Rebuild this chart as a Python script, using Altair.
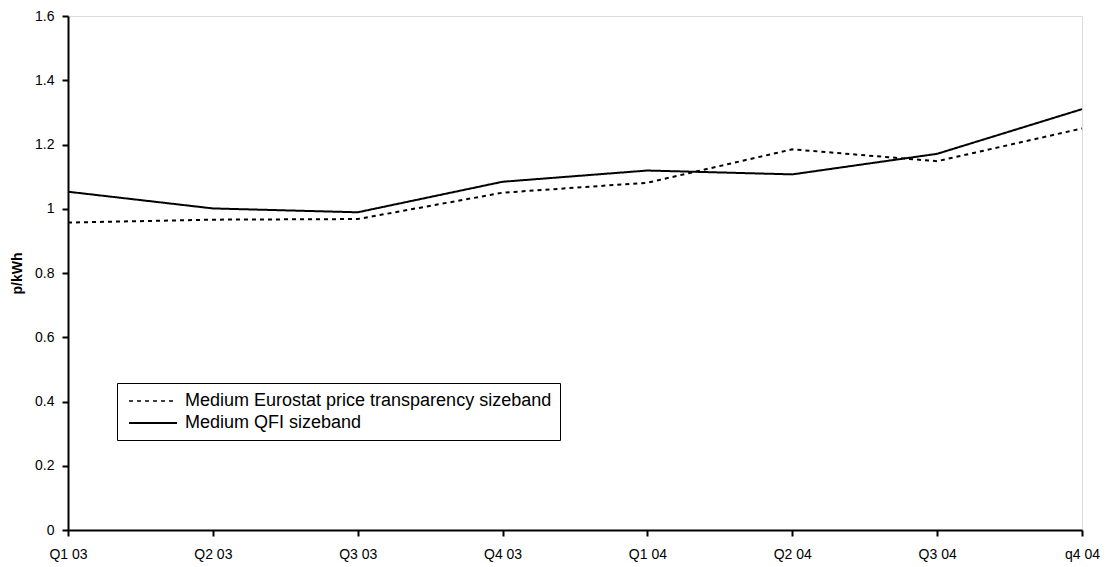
import altair as alt
import pandas as pd

quarters = ["Q1 03", "Q2 03", "Q3 03", "Q4 03", "Q1 04", "Q2 04", "Q3 04", "q4 04"]
eurostat = [0.957, 0.966, 0.968, 1.050, 1.081, 1.185, 1.148, 1.250]
qfi = [1.053, 1.001, 0.989, 1.084, 1.119, 1.107, 1.171, 1.310]
series_names = ["Medium Eurostat price transparency sizeband", "Medium QFI sizeband"]
y_ticks = [0, 0.2, 0.4, 0.6, 0.8, 1, 1.2, 1.4, 1.6]

rows = []
for q, v in zip(quarters, eurostat):
    rows.append({"quarter": q, "value": v, "series": series_names[0]})
for q, v in zip(quarters, qfi):
    rows.append({"quarter": q, "value": v, "series": series_names[1]})
df = pd.DataFrame(rows)

FONT = "Liberation Sans"

chart = alt.Chart(df).mark_line(color="black", strokeWidth=2).encode(
    x=alt.X(
        "quarter:N",
        sort=quarters,
        scale=alt.Scale(type="point", padding=0),
        axis=alt.Axis(
            title=None,
            labelAngle=0,
            labelFontSize=14,
            labelFont=FONT,
            labelColor="black",
            labelPadding=11,
            tickSize=6,
            tickWidth=2,
            tickColor="black",
            domainColor="black",
            domainWidth=2,
            labelFlush=False,
            labelOverlap=False,
            grid=False,
        ),
    ),
    y=alt.Y(
        "value:Q",
        scale=alt.Scale(domain=[0, 1.6], nice=False, zero=True),
        axis=alt.Axis(
            title="p/kWh",
            values=y_ticks,
            format="~g",
            labelFontSize=14,
            labelFont=FONT,
            labelColor="black",
            labelPadding=8,
            tickSize=6,
            tickWidth=2,
            tickColor="black",
            domainColor="black",
            domainWidth=2,
            grid=False,
            titleFont=FONT,
            titleFontSize=14,
            titleFontWeight="bold",
            titleColor="black",
            titleX=-47,
            titleY=257,
            titleAngle=270,
            titleAlign="center",
            titleBaseline="alphabetic",
        ),
    ),
    strokeDash=alt.StrokeDash(
        "series:N",
        scale=alt.Scale(domain=series_names, range=[[4, 4], [1, 0]]),
        legend=alt.Legend(
            title=None,
            orient="none",
            legendX=49,
            legendY=367,
            direction="vertical",
            labelFont=FONT,
            labelFontSize=18,
            labelColor="black",
            labelLimit=0,
            labelOffset=40,
            symbolType="M-0.667,0H4.667",
            symbolSize=324,
            symbolStrokeColor="black",
            symbolStrokeWidth=1.5,
            rowPadding=3,
            padding=8,
            strokeColor="black",
            fillColor="white",
        ),
    ),
    strokeWidth=alt.StrokeWidth(
        "series:N",
        scale=alt.Scale(domain=series_names, range=[1.6, 2]),
        legend=None,
    ),
).properties(
    width=1014,
    height=514,
    autosize=alt.AutoSizeParams(type="none"),
    padding={"left": 60, "top": 8, "right": 21, "bottom": 37},
).configure_view(
    stroke="black",
    strokeWidth=2,
).configure(background="white")

chart.save("out.html", embed_options={"renderer": "svg", "actions": False})
